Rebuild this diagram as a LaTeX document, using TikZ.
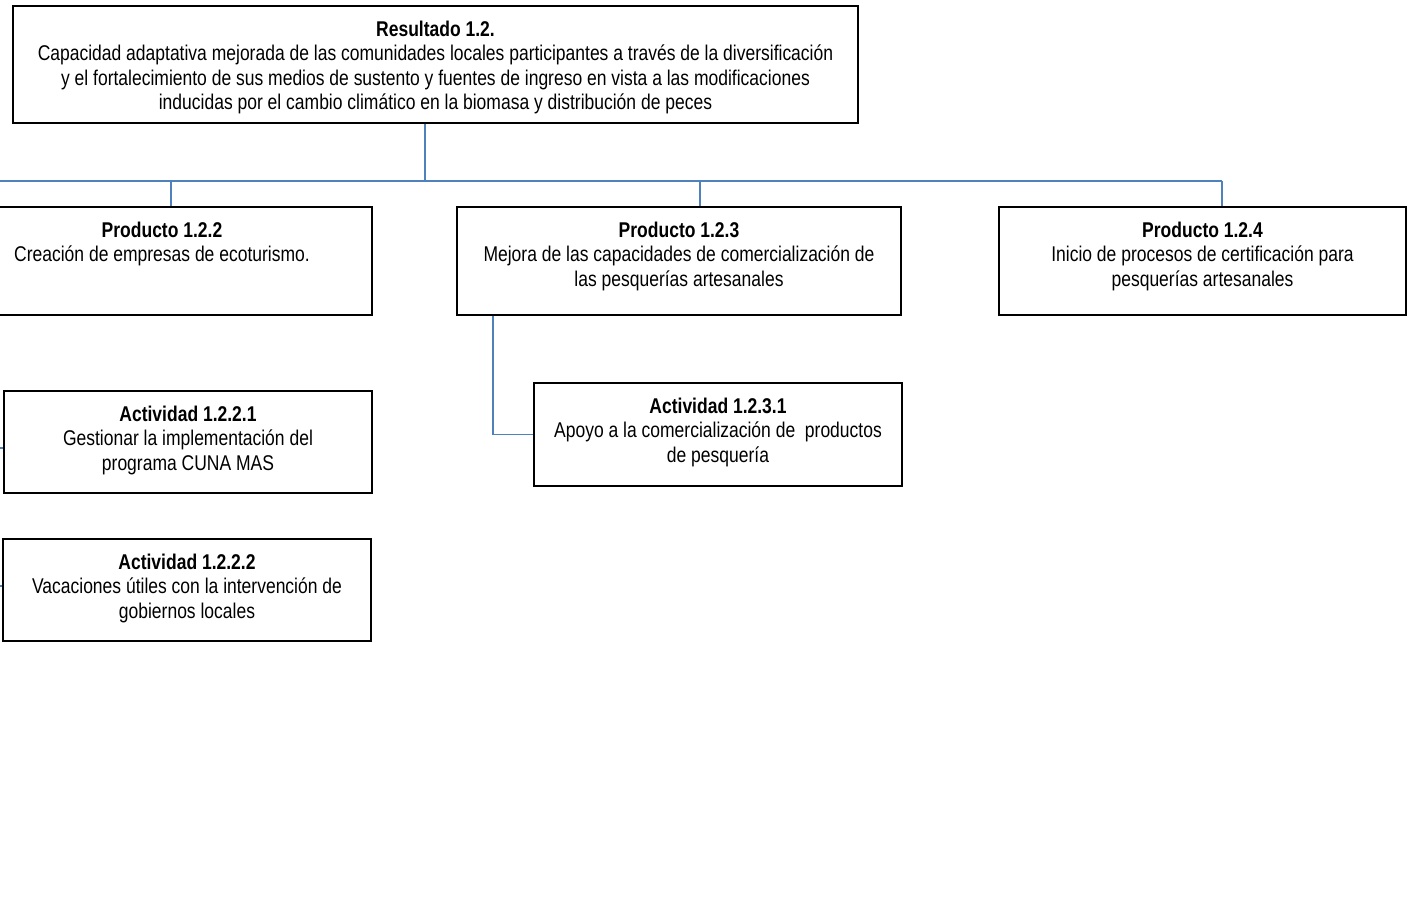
\documentclass[tikz,border=0pt]{standalone}
\usepackage{fontspec}
\setmainfont{Liberation Sans}[FakeStretch=0.82]
\definecolor{azul}{RGB}{79,129,189}
\tikzset{
  caja/.style={draw, line width=1.4pt, inner sep=0pt},
  tam/.style 2 args={minimum width=#1*0.75pt, minimum height=#2*0.75pt},
  texto/.style={anchor=north, align=center, inner sep=0pt, yshift=-11.5pt,
    font=\fontsize{16}{18.4}\selectfont},
  linea/.style={draw=azul, line width=1.3pt}
}
\begin{document}
\begin{tikzpicture}[x=0.75pt,y=-0.75pt]
  \clip (0,0) rectangle (1412,898);

  % cajas
  \node[caja, tam={845}{117}] (res)   at (435.5,64.5) {};
  \node[caja, tam={420}{108}] (p122)  at (162,261)    {};
  \node[caja, tam={444}{108}] (p123)  at (679,261)    {};
  \node[caja, tam={407}{108}] (p124)  at (1202.5,261) {};
  \node[caja, tam={368}{102}] (a1221) at (188,442)    {};
  \node[caja, tam={368}{102}] (a1222) at (187,590)    {};
  \node[caja, tam={368}{103}] (a1231) at (718,434.5)  {};

  % textos
  \node[texto] (res-t) at (res.north) {\textbf{Resultado 1.2.}\\
    Capacidad adaptativa mejorada de las comunidades locales participantes a través de la diversificación\\
    y el fortalecimiento de sus medios de sustento y fuentes de ingreso en vista a las modificaciones\\
    inducidas por el cambio climático en la biomasa y distribución de peces};
  \node[texto] (p122-t) at (p122.north) {\textbf{Producto 1.2.2}\\
    Creación de empresas de ecoturismo.};
  \node[texto] (p123-t) at (p123.north) {\textbf{Producto 1.2.3}\\
    Mejora de las capacidades de comercialización de\\
    las pesquerías artesanales};
  \node[texto] (p124-t) at (p124.north) {\textbf{Producto 1.2.4}\\
    Inicio de procesos de certificación para\\
    pesquerías artesanales};
  \node[texto] (a1221-t) at (a1221.north) {\textbf{Actividad 1.2.2.1}\\
    Gestionar la implementación del\\
    programa CUNA MAS};
  \node[texto] (a1222-t) at (a1222.north) {\textbf{Actividad 1.2.2.2}\\
    Vacaciones útiles con la intervención de\\
    gobiernos locales};
  \node[texto] (a1231-t) at (a1231.north) {\textbf{Actividad 1.2.3.1}\\
    Apoyo a la comercialización de\ \ productos\\
    de pesquería};

  % conectores
  \coordinate (bl) at (-10,181);
  \coordinate (b0) at (425,181);
  \coordinate (b1) at (171,181);
  \coordinate (b2) at (700,181);
  \coordinate (b3) at (1222,181);
  \coordinate (c1) at (493,434);
  \coordinate (s1) at (-5,448);
  \coordinate (s2) at (-5,586);

  \draw[linea] (bl) -- (b3);
  \draw[linea] (res.south -| b0) -- (b0);
  \draw[linea] (b1) -- (b1 |- p122.north);
  \draw[linea] (b2) -- (b2 |- p123.north);
  \draw[linea] (b3) -- (b3 |- p124.north);
  \draw[linea] (p123.south -| c1) -- (c1 |- a1231.west) -- (a1231.west);
  \draw[linea] (s1) -- (s1 -| a1221.west);
  \draw[linea] (s2) -- (s2 -| a1222.west);
\end{tikzpicture}
\end{document}
